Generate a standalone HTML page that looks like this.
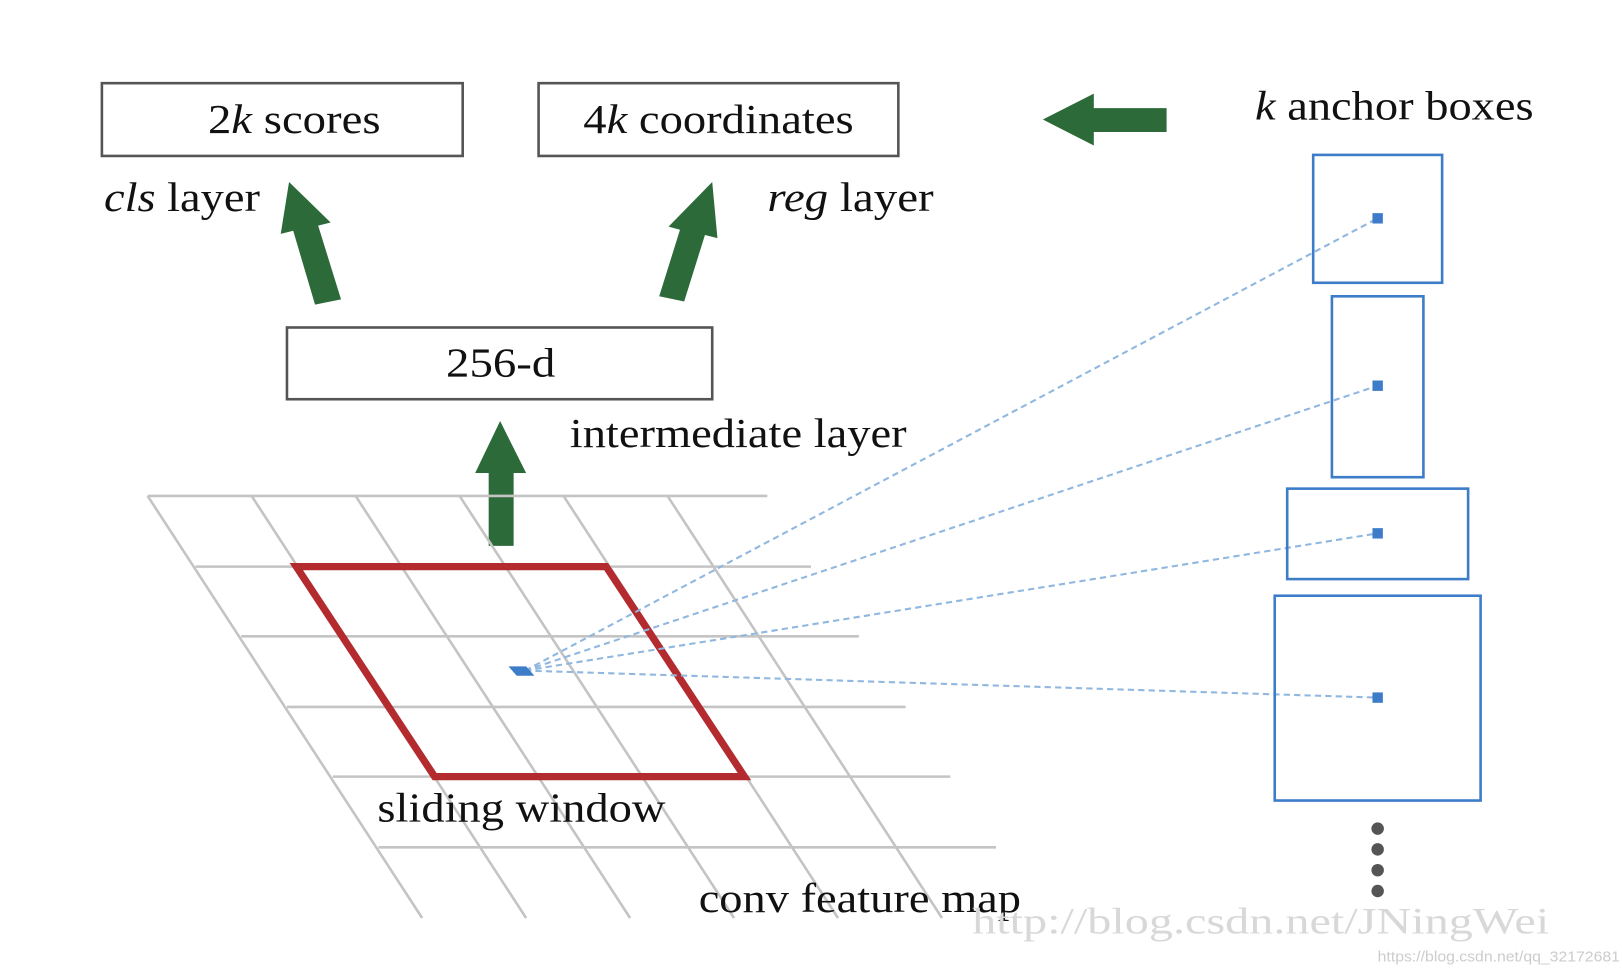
<!DOCTYPE html>
<html><head><style>html,body{margin:0;padding:0;background:#fff;}svg{display:block}</style></head>
<body>
<svg width="1622" height="970" viewBox="0 0 1560 933" preserveAspectRatio="none" xmlns="http://www.w3.org/2000/svg" font-family="'Liberation Serif', serif">
<rect width="1560" height="933" fill="#fff"/>
<rect x="98" y="80" width="347" height="70" fill="none" stroke="#555" stroke-width="2.5"/>
<rect x="518" y="80" width="346" height="70" fill="none" stroke="#555" stroke-width="2.5"/>
<text x="200" y="128" font-size="40" fill="#111" textLength="166" lengthAdjust="spacingAndGlyphs">2<tspan font-style="italic">k</tspan> scores</text>
<text x="561" y="128" font-size="40" fill="#111" textLength="260" lengthAdjust="spacingAndGlyphs">4<tspan font-style="italic">k</tspan> coordinates</text>
<text x="1207" y="115" font-size="40" fill="#111" textLength="268" lengthAdjust="spacingAndGlyphs"><tspan font-style="italic">k</tspan> anchor boxes</text>
<text x="100" y="203" font-size="40" fill="#111" textLength="150" lengthAdjust="spacingAndGlyphs"><tspan font-style="italic">cls</tspan> layer</text>
<text x="738" y="203" font-size="40" fill="#111" textLength="160" lengthAdjust="spacingAndGlyphs"><tspan font-style="italic">reg</tspan> layer</text>
<polygon points="1003,115 1052,90 1052,104 1122,104 1122,127 1052,127 1052,140" fill="#2c6a3a"/>
<g fill="#2c6a3a">
<polygon points="278,175 318,214 306,217 328,288 303,293 282,222 270,225"/>
<polygon points="685,175 690,229 678,226 658,290 634,285 654,221 643,218"/>
<polygon points="481,405 506,455 494,455 494,525 470,525 470,455 457,455"/>
</g>
<rect x="276" y="315" width="409" height="69" fill="none" stroke="#555" stroke-width="2.5"/>
<text x="429" y="362" font-size="40" fill="#111" textLength="105" lengthAdjust="spacingAndGlyphs">256-d</text>
<text x="548" y="430" font-size="40" fill="#111" textLength="324" lengthAdjust="spacingAndGlyphs">intermediate layer</text>
<g stroke="#c4c4c4" stroke-width="2.5">
<line x1="142" y1="477" x2="738" y2="477"/>
<line x1="188" y1="545" x2="780" y2="545"/>
<line x1="232" y1="612" x2="826" y2="612"/>
<line x1="276" y1="680" x2="871" y2="680"/>
<line x1="320" y1="747" x2="914" y2="747"/>
<line x1="364" y1="815" x2="958" y2="815"/>
<line x1="142" y1="477" x2="406" y2="883"/>
<line x1="242" y1="477" x2="506" y2="883"/>
<line x1="342" y1="477" x2="606" y2="883"/>
<line x1="442" y1="477" x2="706" y2="883"/>
<line x1="542" y1="477" x2="806" y2="883"/>
<line x1="642" y1="477" x2="906" y2="883"/>
</g>
<polygon points="285,545 583,545 716,747 418,747" fill="none" stroke="#b32b2f" stroke-width="7"/>
<g stroke="#8fb7e0" stroke-width="2" stroke-dasharray="6,4" fill="none">
<line x1="505" y1="645" x2="1325" y2="210"/>
<line x1="505" y1="645" x2="1325" y2="371"/>
<line x1="505" y1="645" x2="1325" y2="513"/>
<line x1="505" y1="645" x2="1325" y2="671"/>
</g>
<polygon points="489,641 506,641 514,650 497,650" fill="#3d7cc9"/>
<g fill="none" stroke="#3d7cc9" stroke-width="2.5">
<rect x="1263" y="149" width="124" height="123"/>
<rect x="1281" y="285" width="88" height="174"/>
<rect x="1238" y="470" width="174" height="87"/>
<rect x="1226" y="573" width="198" height="197"/>
</g>
<g fill="#3d7cc9">
<rect x="1320" y="205" width="10" height="10"/>
<rect x="1320" y="366" width="10" height="10"/>
<rect x="1320" y="508" width="10" height="10"/>
<rect x="1320" y="666" width="10" height="10"/>
</g>
<g fill="#555">
<circle cx="1325" cy="797" r="6"/><circle cx="1325" cy="817" r="6"/>
<circle cx="1325" cy="837" r="6"/><circle cx="1325" cy="857" r="6"/>
</g>
<text x="363" y="790" font-size="40" fill="#111" textLength="277" lengthAdjust="spacingAndGlyphs">sliding window</text>
<text x="672" y="877" font-size="40" fill="#111" textLength="310" lengthAdjust="spacingAndGlyphs">conv feature map</text>
<text x="935" y="898" font-size="36" fill="#d8d8d8" textLength="555" lengthAdjust="spacingAndGlyphs">http://blog.csdn.net/JNingWei</text>
<text x="1325" y="925" font-size="14" fill="#ccc" font-family="'Liberation Sans', sans-serif" textLength="233" lengthAdjust="spacingAndGlyphs">https://blog.csdn.net/qq_32172681</text>
</svg>
</body></html>
